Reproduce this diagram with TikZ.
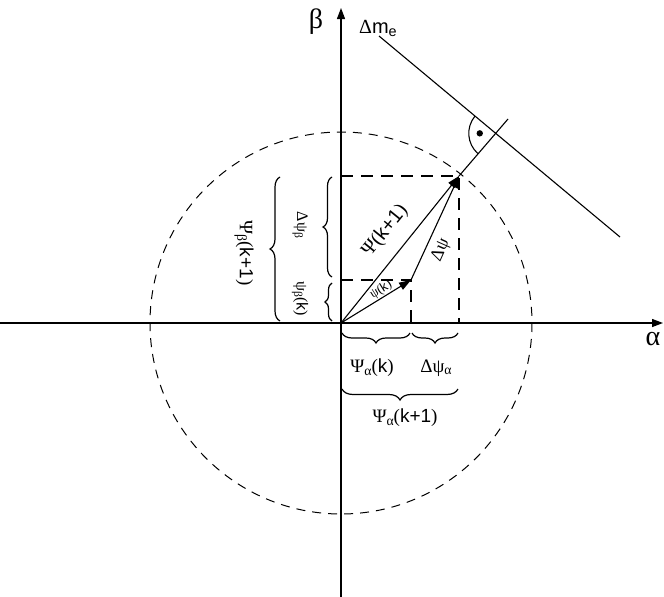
\documentclass[tikz,border=0pt]{standalone}
\usepackage{fontspec}
\usepackage{graphicx}
\setmainfont{Liberation Sans}
\newfontfamily\gr{Liberation Serif}
\usetikzlibrary{arrows.meta,decorations.pathreplacing}
\newcommand\sbs[1]{\raisebox{-0.3ex}{\scalebox{0.72}{#1}}}
\newcommand\fs[1]{\fontsize{#1}{#1}\selectfont}
\begin{document}
\begin{tikzpicture}[x=1pt,y=-1pt,
  ax/.style={line width=1.3pt,-{Triangle[length=11pt,width=8pt]}},
  vec/.style={line width=1.1pt,-{Triangle[length=12pt,width=8pt]}},
  rdash/.style={line width=2.2pt,dash pattern=on 12pt off 8pt},
  cdash/.style={line width=1pt,dash pattern=on 9pt off 7pt},
  thin line/.style={line width=1.1pt},
  brc/.style={decorate,decoration={brace,amplitude=#1},line width=1.2pt},
  lbl/.style={inner sep=0pt},
]
\useasboundingbox (0,0) rectangle (664,597);

% key points
\coordinate (O) at (341,323);
\coordinate (A) at (411,280);
\coordinate (B) at (459,176);
\coordinate (E) at (508,119);
\coordinate (M1) at (379,36);
\coordinate (M2) at (620,237);
\coordinate (P) at (intersection of B--E and M1--M2);
\coordinate (Bx) at (459,323);
\coordinate (Ax) at (411,323);
\coordinate (By) at (341,176);
\coordinate (Ay) at (341,280);
\coordinate (XL) at (0,323);
\coordinate (XR) at (663,323);
\coordinate (YB) at (341,597);
\coordinate (YT) at (341,8);

% dashed circle
\draw[cdash] (O) circle[radius=191];

% axes
\draw[ax] (XL) -- (XR);
\draw[ax] (YB) -- (YT);

% dashed projections
\draw[rdash] (By) -- (B) -- (Bx);
\draw[rdash] (Ay) -- (A) -- (Ax);

% vectors
\draw[vec] (O) -- (A);
\draw[vec] (O) -- (B);
\draw[vec] (A) -- (B);

% extension and Delta m_e line
\draw[thin line] (B) -- (E);
\draw[thin line] (M1) -- (M2);
\draw[thin line] (P) ++(131.5:27) arc[start angle=131.5,end angle=219.2,radius=27];
\fill (P) ++(180:16) circle[radius=3.2];

% braces left (tip pointing left)
\draw[brc=7pt] (332,321) -- (332,283);
\draw[brc=9pt] (332,277) -- (332,177);
\draw[brc=10pt] (280,321) -- (280,177);
% braces bottom (tip pointing down)
\draw[brc=10pt] (410,333) -- (342,333);
\draw[brc=10pt] (458,333) -- (412,333);
\draw[brc=11pt] (458,389) -- (342,389);

% labels
\node[lbl] (beta) at (316,22) {\fs{28pt}\gr β};
\node[lbl,anchor=base west] (dme) at (359,33) {\fs{20pt}{\gr Δ}m\sbs{e}};
\node[lbl] (alpha) at (653,339) {\fs{28pt}\gr α};
\node[lbl,rotate=51] (lk1) at (385,231) {\fs{20pt}{\gr Ψ(}k+1{\gr )}};
\node[lbl,rotate=66] (ld) at (441,250) {\fs{18pt}\gr Δψ};
\node[lbl,rotate=32] (lk) at (381,290) {\fs{13pt}{\gr ψ(}k{\gr )}};
\node[lbl,rotate=-90] (ldb) at (300,225) {\fs{16pt}\gr Δψ\sbs{β}};
\node[lbl,rotate=-90] (lbk) at (300,299) {\fs{16pt}{\gr ψ\sbs{β}(}k{\gr )}};
\node[lbl,rotate=-90] (lbk1) at (244,253) {\fs{19pt}{\gr Ψ\sbs{β}(}k+1{\gr )}};
\node[lbl] (lak) at (372,368) {\fs{19pt}{\gr Ψ\sbs{α}(}k{\gr )}};
\node[lbl] (lda) at (436,368) {\fs{19pt}\gr Δψ\sbs{α}};
\node[lbl] (lak1) at (405,418) {\fs{19pt}{\gr Ψ\sbs{α}(}k+1{\gr )}};
\end{tikzpicture}
\end{document}
